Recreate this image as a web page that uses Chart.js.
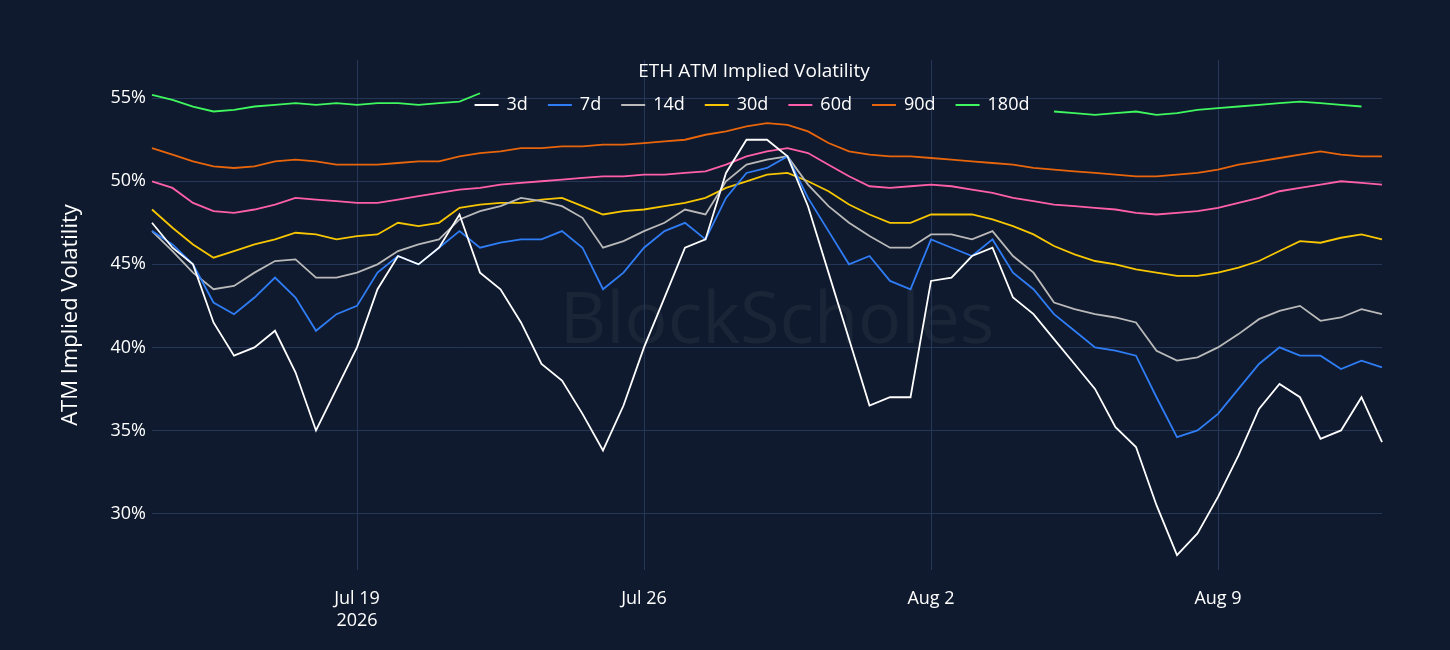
<!DOCTYPE html>
<html>
<head>
<meta charset="utf-8">
<script src="https://cdn.jsdelivr.net/npm/chart.js@4"></script>
<style>
  html, body { margin: 0; padding: 0; background: #0f1a2e; }
  #wrap { width: 1450px; height: 650px; }
</style>
</head>
<body>
<div id="wrap"><canvas id="vol-chart"></canvas></div>
<script>
/*------------------------ DATA ---------------------------------*/
// 12-hourly samples, Jul 14 00:00 -> Aug 13 00:00
const timeLabels = []
for (let d = 14; d <= 31; d++) { timeLabels.push('Jul ' + d + ' 00:00', 'Jul ' + d + ' 12:00') }
for (let d = 1; d <= 13; d++) { timeLabels.push('Aug ' + d + ' 00:00'); if (d < 13) timeLabels.push('Aug ' + d + ' 12:00') }

const tickLabels = { 'Jul 19 00:00': ['Jul 19', '2026'], 'Jul 26 00:00': 'Jul 26', 'Aug 2 00:00': 'Aug 2', 'Aug 9 00:00': 'Aug 9' }
const yTicks = [30, 35, 40, 45, 50, 55]

const vol3d = [47.5, 46, 45, 41.5, 39.5, 40, 41, 38.5, 35, 37.5, 40, 43.5, 45.5, 45, 46, 48, 44.5, 43.5, 41.5, 39, 38, 36, 33.8, 36.5, 40, 43, 46, 46.5, 50.5, 52.5, 52.5, 51.5, 48.5, 44.5, 40.5, 36.5, 37, 37, 44, 44.2, 45.5, 46, 43, 42, 40.5, 39, 37.5, 35.2, 34, 30.5, 27.5, 28.8, 31, 33.5, 36.3, 37.8, 37, 34.5, 35, 37, 34.3]
const vol7d = [47, 46.2, 45, 42.7, 42, 43, 44.2, 43, 41, 42, 42.5, 44.5, 45.5, 45, 46, 47, 46, 46.3, 46.5, 46.5, 47, 46, 43.5, 44.5, 46, 47, 47.5, 46.5, 49, 50.5, 50.8, 51.5, 49, 47, 45, 45.5, 44, 43.5, 46.5, 46, 45.5, 46.5, 44.5, 43.5, 42, 41, 40, 39.8, 39.5, 37, 34.6, 35, 36, 37.5, 39, 40, 39.5, 39.5, 38.7, 39.2, 38.8]
const vol14d = [47, 45.8, 44.5, 43.5, 43.7, 44.5, 45.2, 45.3, 44.2, 44.2, 44.5, 45, 45.8, 46.2, 46.5, 47.7, 48.2, 48.5, 49, 48.8, 48.5, 47.8, 46, 46.4, 47, 47.5, 48.3, 48, 50, 51, 51.3, 51.5, 49.8, 48.5, 47.5, 46.7, 46, 46, 46.8, 46.8, 46.5, 47, 45.5, 44.5, 42.7, 42.3, 42, 41.8, 41.5, 39.8, 39.2, 39.4, 40, 40.8, 41.7, 42.2, 42.5, 41.6, 41.8, 42.3, 42]
const vol30d = [48.3, 47.2, 46.2, 45.4, 45.8, 46.2, 46.5, 46.9, 46.8, 46.5, 46.7, 46.8, 47.5, 47.3, 47.5, 48.4, 48.6, 48.7, 48.7, 48.9, 49, 48.5, 48, 48.2, 48.3, 48.5, 48.7, 49, 49.6, 50, 50.4, 50.5, 50, 49.4, 48.6, 48, 47.5, 47.5, 48, 48, 48, 47.7, 47.3, 46.8, 46.1, 45.6, 45.2, 45, 44.7, 44.5, 44.3, 44.3, 44.5, 44.8, 45.2, 45.8, 46.4, 46.3, 46.6, 46.8, 46.5]
const vol60d = [50, 49.6, 48.7, 48.2, 48.1, 48.3, 48.6, 49, 48.9, 48.8, 48.7, 48.7, 48.9, 49.1, 49.3, 49.5, 49.6, 49.8, 49.9, 50, 50.1, 50.2, 50.3, 50.3, 50.4, 50.4, 50.5, 50.6, 51, 51.5, 51.8, 52, 51.7, 51, 50.3, 49.7, 49.6, 49.7, 49.8, 49.7, 49.5, 49.3, 49, 48.8, 48.6, 48.5, 48.4, 48.3, 48.1, 48, 48.1, 48.2, 48.4, 48.7, 49, 49.4, 49.6, 49.8, 50, 49.9, 49.8]
const vol90d = [52, 51.6, 51.2, 50.9, 50.8, 50.9, 51.2, 51.3, 51.2, 51, 51, 51, 51.1, 51.2, 51.2, 51.5, 51.7, 51.8, 52, 52, 52.1, 52.1, 52.2, 52.2, 52.3, 52.4, 52.5, 52.8, 53, 53.3, 53.5, 53.4, 53, 52.3, 51.8, 51.6, 51.5, 51.5, 51.4, 51.3, 51.2, 51.1, 51, 50.8, 50.7, 50.6, 50.5, 50.4, 50.3, 50.3, 50.4, 50.5, 50.7, 51, 51.2, 51.4, 51.6, 51.8, 51.6, 51.5, 51.5]
// middle part hidden behind the legend in the original
const vol180d = [55.2, 54.9, 54.5, 54.2, 54.3, 54.5, 54.6, 54.7, 54.6, 54.7, 54.6, 54.7, 54.7, 54.6, 54.7, 54.8, 55.3,
    null, null, null, null, null, null, null, null, null, null, null, null, null, null, null, null, null, null, null, null, null, null, null, null, null, null, null,
    54.2, 54.1, 54, 54.1, 54.2, 54, 54.1, 54.3, 54.4, 54.5, 54.6, 54.7, 54.8, 54.7, 54.6, 54.5]

const seriesNames = ['3d', '7d', '14d', '30d', '60d', '90d', '180d']
const seriesValues = [vol3d, vol7d, vol14d, vol30d, vol60d, vol90d, vol180d]
const seriesColors = ['#ffffff', '#2f7df6', '#b9b9b9', '#f7c600', '#ff5fa8', '#e8650c', '#3ff75e']

/*------------------------ CHART ---------------------------------*/
const GRID = '#263656'
const FONT = '"Open Sans", sans-serif'

const extras = {
    id: 'extras',
    beforeDraw(chart) {
        const c = chart.ctx
        c.save()
        c.fillStyle = '#0f1a2e'
        c.fillRect(0, 0, chart.width, chart.height)
        const a = chart.chartArea
        c.fillStyle = 'rgba(255,255,255,0.05)'
        c.font = '72px ' + FONT
        c.textAlign = 'center'
        c.textBaseline = 'middle'
        c.fillText('BlockScholes', (a.left + a.right) / 2 + 10, 322)
        c.restore()
    },
    afterDraw(chart) {
        const c = chart.ctx
        c.save()
        c.fillStyle = '#ffffff'
        c.font = '19px ' + FONT
        c.textAlign = 'center'
        c.textBaseline = 'middle'
        c.fillText('ETH ATM Implied Volatility', 754, 72)

        // horizontal legend inside the plot, like the original
        c.font = '18px ' + FONT
        c.textAlign = 'left'
        const items = chart.data.datasets
        const widths = items.map(d => 32 + c.measureText(d.label).width + 20)
        let x = 762 - widths.reduce((s, w) => s + w, 0) / 2
        const y = 105
        items.forEach((d, i) => {
            c.strokeStyle = d.borderColor
            c.lineWidth = 2
            c.beginPath()
            c.moveTo(x, y)
            c.lineTo(x + 24, y)
            c.stroke()
            c.fillStyle = '#ffffff'
            c.fillText(d.label, x + 32, y)
            x += widths[i]
        })
        c.restore()
    }
}

const volCanvas = document.querySelector('#vol-chart').getContext('2d')
const volChart = new Chart(volCanvas, {
    type: 'line',
    data: {
        labels: timeLabels,
        datasets: seriesNames.map((name, i) => ({
            label: name,
            data: seriesValues[i],
            borderColor: seriesColors[i],
            backgroundColor: seriesColors[i],
            borderWidth: 1.8,
            pointRadius: 0,
            tension: 0,
            spanGaps: false
        }))
    },
    options: {
        responsive: true,
        maintainAspectRatio: false,
        animation: false,
        layout: { padding: { left: 58, right: 68, top: 60, bottom: 0 } },
        scales: {
            x: {
                type: 'category',
                offset: false,
                afterFit: s => { s.height = 80 },
                border: { display: false },
                grid: {
                    color: ctx => (ctx.tick && tickLabels[timeLabels[ctx.tick.value]]) ? GRID : 'rgba(0,0,0,0)',
                    drawTicks: false
                },
                ticks: {
                    autoSkip: false,
                    maxRotation: 0,
                    padding: 18,
                    color: '#ffffff',
                    font: { size: 18, family: FONT },
                    callback: (v, i) => tickLabels[timeLabels[i]] || ''
                }
            },
            y: {
                min: 26.6,
                max: 57.3,
                afterFit: s => { s.width = 94 },
                afterBuildTicks: s => { s.ticks = yTicks.map(v => ({ value: v })) },
                border: { display: false },
                grid: { color: GRID, drawTicks: false },
                ticks: {
                    padding: 6,
                    color: '#ffffff',
                    font: { size: 18, family: FONT },
                    callback: v => v + '%'
                },
                title: {
                    display: true,
                    text: 'ATM Implied Volatility',
                    color: '#ffffff',
                    font: { size: 22, family: FONT },
                    padding: { top: 0, bottom: 8 }
                }
            }
        },
        plugins: {
            legend: { display: false },
            tooltip: { enabled: false }
        }
    },
    plugins: [extras]
})
</script>
</body>
</html>
